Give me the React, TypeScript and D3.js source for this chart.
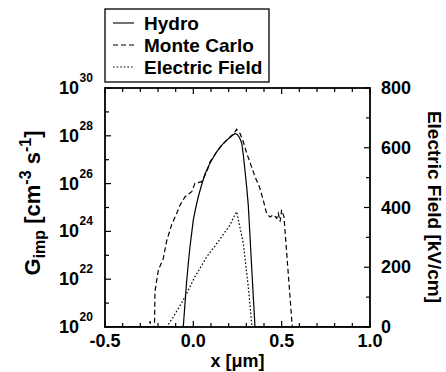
import React from "react";
import * as d3 from "d3";

// x positions in µm, log10(G_imp) values
const hydroX = [-0.5, -0.057, -0.047, -0.038, -0.028, -0.019, -0.009, 0.0, 0.014, 0.028, 0.047, 0.066, 0.094, 0.132, 0.16, 0.189, 0.215, 0.236, 0.25, 0.262, 0.274, 0.283, 0.292, 0.302, 0.311, 0.32, 0.33, 0.34, 0.349, 1.0];
const hydroLogG = [20, 20, 21.0, 21.9, 22.7, 23.36, 23.95, 24.48, 25.0, 25.45, 25.95, 26.4, 26.85, 27.33, 27.6, 27.82, 27.98, 28.1, 28.05, 27.92, 27.69, 27.2, 26.57, 25.85, 25.1, 23.9, 22.52, 21.2, 20, 20];

const mcX = [-0.5, -0.25, -0.245, -0.24, -0.22, -0.217, -0.198, -0.17, -0.151, -0.123, -0.094, -0.075, -0.047, -0.009, 0.009, 0.047, 0.076, 0.094, 0.13, 0.16, 0.2, 0.23, 0.245, 0.264, 0.283, 0.302, 0.33, 0.349, 0.36, 0.377, 0.396, 0.415, 0.434, 0.453, 0.472, 0.481, 0.491, 0.5, 0.513, 0.557, 0.56, 1.0];
const mcLogG = [20, 20, 20.25, 20, 20, 21.5, 22.38, 22.87, 23.6, 24.27, 24.76, 25.1, 25.45, 25.66, 26.01, 26.08, 26.5, 26.9, 27.3, 27.6, 27.9, 28.1, 28.27, 28.1, 27.75, 27.27, 26.7, 26.29, 26.1, 25.8, 25.3, 24.75, 24.6, 24.69, 24.55, 24.76, 24.41, 24.9, 24.61, 20.3, 20, 20];

const efX = [-0.5, -0.151, -0.113, -0.057, 0.009, 0.076, 0.141, 0.207, 0.226, 0.245, 0.255, 0.283, 0.311, 0.33, 0.336, 1.0];
const efKVcm = [0, 0, 34, 90, 168, 235, 286, 341, 364, 386, 358, 280, 135, 12, 0, 0];

const xTicks = [-0.5, 0.0, 0.5, 1.0];
const xTickLabels = ["-0.5", "0.0", "0.5", "1.0"];
const yLeftExps = [20, 22, 24, 26, 28, 30];
const yRightTicks = [0, 200, 400, 600, 800];

const legendNames = ["Hydro", "Monte Carlo", "Electric Field"];
const legendDash = ["none", "5,3", "1.6,2"];

const W = 446, H = 372;
const L = 105, R = 370, T = 88, B = 327;
const FONT = "'Liberation Sans', Arial, Helvetica, sans-serif";

export default function App() {
  const x = d3.scaleLinear().domain([-0.5, 1.0]).range([L, R]);
  const yL = d3.scaleLog().domain([1e20, 1e30]).range([B, T]);
  const yR = d3.scaleLinear().domain([0, 800]).range([B, T]);

  const lineLog = d3.line<[number, number]>().x(d => x(d[0])).y(d => yL(Math.pow(10, d[1])));
  const lineLin = d3.line<[number, number]>().x(d => x(d[0])).y(d => yR(d[1]));

  const hydroPath = lineLog(hydroX.map((v, i) => [v, hydroLogG[i]] as [number, number])) || "";
  const mcPath = lineLog(mcX.map((v, i) => [v, mcLogG[i]] as [number, number])) || "";
  const efPath = lineLin(efX.map((v, i) => [v, efKVcm[i]] as [number, number])) || "";

  const xMinor = d3.range(-0.5, 1.0001, 0.1);
  const yLeftMinor = d3.range(20, 31, 1);
  const yRightMinor = d3.range(0, 801, 100);

  const ticks: JSX.Element[] = [];
  xMinor.forEach((v, i) => {
    const major = Math.abs(v * 2 - Math.round(v * 2)) < 1e-6;
    const len = major ? 6 : 4;
    const px = x(v);
    ticks.push(<line key={"xb" + i} x1={px} x2={px} y1={B} y2={B - len} />);
    ticks.push(<line key={"xt" + i} x1={px} x2={px} y1={T} y2={T + len} />);
  });
  yLeftMinor.forEach((e, i) => {
    const len = e % 2 === 0 ? 6 : 4;
    const py = yL(Math.pow(10, e));
    ticks.push(<line key={"yl" + i} x1={L} x2={L + len} y1={py} y2={py} />);
  });
  yRightMinor.forEach((v, i) => {
    const len = v % 200 === 0 ? 6 : 4;
    const py = yR(v);
    ticks.push(<line key={"yr" + i} x1={R} x2={R - len} y1={py} y2={py} />);
  });

  return (
    <svg width={W} height={H} style={{ position: "absolute", left: 0, top: 0, background: "#fff" }}
      fontFamily={FONT} fontWeight="bold">
      <defs>
        <clipPath id="plotclip">
          <rect x={L} y={T - 2} width={R - L} height={B - T + 2} />
        </clipPath>
      </defs>
      <rect x={0} y={0} width={W} height={H} fill="#fff" />
      <g clipPath="url(#plotclip)" fill="none" stroke="#000" strokeWidth={1.2}>
        <path d={efPath} strokeDasharray="1.6,2" />
        <path d={mcPath} strokeDasharray="5,3" />
        <path d={hydroPath} />
      </g>
      <g stroke="#000" strokeWidth={1.2}>{ticks}</g>
      <rect x={L} y={T} width={R - L} height={B - T} fill="none" stroke="#000" strokeWidth={1.8} />

      {/* bottom tick labels */}
      {xTicks.map((v, i) => (
        <text key={"xl" + i} x={x(v)} y={347} textAnchor="middle" fontSize={18}>{xTickLabels[i]}</text>
      ))}
      {/* left tick labels */}
      {yLeftExps.map((e, i) => {
        const py = yL(Math.pow(10, e));
        return (
          <g key={"ylab" + i}>
            <text x={79} y={py + 6} textAnchor="end" fontSize={18}>10</text>
            <text x={79.5} y={py - 6} textAnchor="start" fontSize={12}>{String(e)}</text>
          </g>
        );
      })}
      {/* right tick labels */}
      {yRightTicks.map((v, i) => (
        <text key={"yrl" + i} x={381} y={yR(v) + 6} textAnchor="start" fontSize={18}>{String(v)}</text>
      ))}

      {/* axis titles */}
      <text x={(L + R) / 2} y={367} textAnchor="middle" fontSize={18}>x [μm]</text>
      <text transform={`translate(40, 203) rotate(-90)`} textAnchor="middle" fontSize={22}>
        G<tspan fontSize={16} dy={5}>imp</tspan>
        <tspan dy={-5}> [cm</tspan>
        <tspan fontSize={16} dy={-9}>-3</tspan>
        <tspan dy={9}> s</tspan>
        <tspan fontSize={16} dy={-9}>-1</tspan>
        <tspan dy={9}>]</tspan>
      </text>
      <text transform={`translate(428, 207) rotate(90)`} textAnchor="middle" fontSize={19}>Electric Field [kV/cm]</text>

      {/* legend */}
      <rect x={105} y={9} width={164} height={73} fill="#fff" stroke="#000" strokeWidth={1.3} />
      {legendNames.map((n, i) => (
        <g key={"lg" + i}>
          <line x1={113} x2={134} y1={23 + i * 22} y2={23 + i * 22} stroke="#000" strokeWidth={1.1}
            strokeDasharray={legendDash[i] === "none" ? undefined : legendDash[i]} />
          <text x={144} y={30 + i * 22} fontSize={19}>{n}</text>
        </g>
      ))}
    </svg>
  );
}
